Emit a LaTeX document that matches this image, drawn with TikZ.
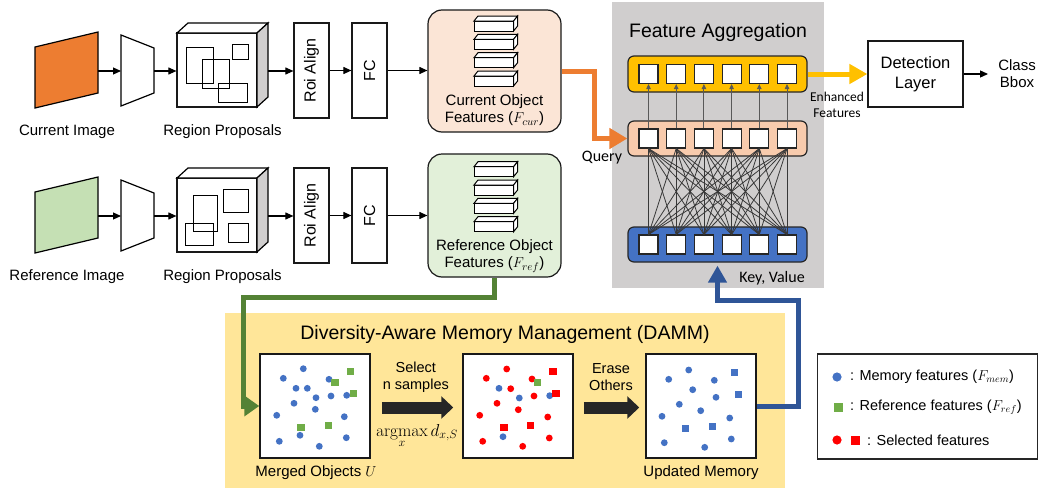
\documentclass[tikz,border=0pt]{standalone}
\usepackage[no-math]{fontspec}
\setmainfont{Liberation Sans}
\newfontfamily\carl{Carlito}
\usetikzlibrary{arrows.meta}
\definecolor{corange}{HTML}{ED7D31}
\definecolor{imggreen}{HTML}{C5E0B4}
\definecolor{curfill}{HTML}{FBE5D6}
\definecolor{reffill}{HTML}{E2F0D9}
\definecolor{panelgray}{HTML}{D0CECE}
\definecolor{cyellow}{HTML}{FFC000}
\definecolor{cpeach}{HTML}{F8CBAD}
\definecolor{cbluebar}{HTML}{4472C4}
\definecolor{cgreenline}{HTML}{548235}
\definecolor{cblueline}{HTML}{2F5597}
\definecolor{dammfill}{HTML}{FFE699}
\definecolor{dotblue}{HTML}{4472C4}
\definecolor{dotgreen}{HTML}{70AD47}
\definecolor{dotred}{HTML}{FF0000}
\definecolor{darkarrow}{HTML}{262626}
\newcommand\featbar[2]{%
  \begin{scope}[shift={(#1,#2)}]
    \draw[line width=1pt, fill=white] (0,5) rectangle (39.6,15);
    \draw[line width=1pt, fill=white] (0,5) -- (4,0) -- (43.6,0) -- (39.6,5) -- cycle;
    \draw[line width=1pt, fill=white] (39.6,5) -- (43.6,0) -- (43.6,10) -- (39.6,15) -- cycle;
  \end{scope}}
\begin{document}
\begin{tikzpicture}[x=1pt,y=-1pt,
  box/.style={draw=black!90, line width=1.2pt, fill=white, inner sep=0pt},
  lbl/.style={font=\fontsize{15}{17}\selectfont, align=center, inner sep=0pt},
  smalllbl/.style={font=\fontsize{14.5}{16.5}\selectfont, align=center, inner sep=0pt},
  leglbl/.style={font=\fontsize{14.5}{16}\selectfont, anchor=west, inner sep=0pt},
  title/.style={font=\fontsize{19.5}{22}\selectfont, inner sep=0pt},
  carllbl/.style={font=\carl\fontsize{16}{18}\selectfont, align=center, inner sep=0pt},
  thinarrow/.style={draw=black, line width=1.1pt, -{Triangle[length=8pt,width=7pt]}},
  fbox/.style={draw=black!90, line width=1.2pt, rounded corners=14pt, inner sep=0pt},
  barbox/.style={draw=black!85, line width=1.2pt, rounded corners=6pt, inner sep=0pt, minimum width=179pt},
  sq/.style={draw=black!85, line width=1.1pt, fill=white, minimum size=19pt, inner sep=0pt},
  conn/.style={draw=black!78, line width=0.8pt},
  uparrow/.style={draw=black!65, line width=0.9pt, -{Triangle[length=5pt,width=4.5pt]}},
  dbox/.style={draw=black!90, line width=1.5pt, fill=white, minimum width=110pt, minimum height=104pt, inner sep=0pt},
  bigarrow/.style={draw=darkarrow, line width=12pt, -{Triangle[length=12pt,width=22pt]}},
  fatline/.style={line width=5pt}
]
\useasboundingbox (0,0) rectangle (1039,490);

% ---------------- two input rows ----------------
\foreach \r/\dy/\fc in {cur/0/corange, ref/145/imggreen}{
  \begin{scope}[shift={(0,\dy)}]
    \draw[line width=1.2pt, fill=\fc] (35,47) -- (98,32) -- (98,93) -- (35,108) -- cycle;
    \coordinate (img\r) at (98,71);
    \draw[line width=1.2pt, fill=white] (121,35) -- (154,48) -- (154,93) -- (121,106) -- cycle;
    \coordinate (encw\r) at (121,71);
    \coordinate (ence\r) at (154,71);
    \node[box, minimum width=80pt, minimum height=74pt] (rp\r) at (217,70) {};
    \draw[line width=1.2pt, fill=white] (177,33) -- (188,23) -- (268,23) -- (257,33) -- cycle;
    \draw[line width=1.2pt, fill=panelgray] (257,33) -- (268,23) -- (268,97) -- (257,107) -- cycle;
    \coordinate (rpe\r) at (268,71);
    \node[box, minimum width=35pt, minimum height=95pt, font=\fontsize{16}{18}\selectfont] (roi\r) at (311.5,70.5) {\rotatebox{90}{Roi Align}};
    \node[box, minimum width=35pt, minimum height=95pt, font=\fontsize{16}{18}\selectfont] (fc\r) at (369.5,70.5) {\rotatebox{90}{FC}};
    \draw[thinarrow] (img\r) -- (encw\r);
    \draw[thinarrow] (ence\r) -- (ence\r -| rp\r.west);
    \draw[thinarrow] (rpe\r) -- (rpe\r -| roi\r.west);
    \draw[thinarrow] (roi\r.east) -- (fc\r.west);
  \end{scope}
}
\node[lbl] (lcurimg) at (67,132) {Current Image};
\node[lbl] (lcurrp) at (222.5,132) {Region Proposals};
\node[lbl] (lrefimg) at (67,277) {Reference Image};
\node[lbl] (lrefrp) at (222.5,277) {Region Proposals};

% region proposal rectangles
\begin{scope}[line width=1pt]
  \draw (186,47) rectangle (213,83);
  \draw (202,59) rectangle (229,88);
  \draw (218,83) rectangle (247,102);
  \draw (232,44) rectangle (248,59);
  \draw (193,195) rectangle (217,231);
  \draw (223,189) rectangle (248,212);
  \draw (185,223) rectangle (213,245);
  \draw (228,223) rectangle (248,242);
\end{scope}

% ---------------- object feature boxes ----------------
\node[fbox, fill=curfill, minimum width=133pt, minimum height=122pt] (curbox) at (494.5,71) {};
\node[fbox, fill=reffill, minimum width=133pt, minimum height=123pt] (refbox) at (494.5,215.5) {};
\foreach \y in {16,34.3,52.7,71}{\featbar{474}{\y}}
\foreach \y in {161.7,180,198.3,216.7}{\featbar{474}{\y}}
\node[lbl] (tcur) at (494.5,110.5) {Current Object\\Features ($F_{cur}$)};
\node[lbl] (tref) at (494.5,256) {Reference Object\\Features ($F_{ref}$)};
\draw[thinarrow] (fccur.east) -- (fccur.east -| curbox.west);
\draw[thinarrow] (fcref.east) -- (fcref.east -| refbox.west);

% ---------------- feature aggregation ----------------
\node[fill=panelgray, minimum width=212pt, minimum height=286pt, inner sep=0pt] (fapanel) at (718,145) {};
\node[title] (fatitle) at (718,32) {Feature Aggregation};
\node[barbox, fill=cyellow, minimum height=36pt] (topbar) at (717.5,74) {};
\node[barbox, fill=cpeach, minimum height=35pt] (midbar) at (717.5,138.5) {};
\node[barbox, fill=cbluebar, minimum height=35pt] (botbar) at (717.5,244.5) {};
\foreach \i in {0,...,5}{
  \node[sq] (t\i) at ({648.5+27.7*\i},74) {};
  \node[sq] (m\i) at ({648.5+27.7*\i},138.5) {};
  \node[sq] (b\i) at ({648.5+27.7*\i},244.5) {};
}
\foreach \i in {0,...,5}{
  \draw[uparrow] (m\i.north) -- (t\i.south);
  \foreach \j in {0,...,5}{
    \draw[conn] (m\i.south) -- (b\j.north);
  }
}
\node[carllbl] (query) at (602,158) {Query};
\node[carllbl] (keyval) at (772,278) {Key, Value};

% ---------------- detection ----------------
\node[box, minimum width=95pt, minimum height=66pt, font=\fontsize{16.5}{20}\selectfont, align=center] (det) at (915.5,74) {Detection\\Layer};
\node[lbl, inner xsep=10pt] (cls) at (1017,74) {Class\\Bbox};
\draw[thinarrow] (det.east) -- (det.east -| cls.west);
\node[font=\carl\fontsize{13.5}{16}\selectfont, align=center, inner sep=0pt] (enh) at (837,105) {Enhanced\\Features};

% ---------------- DAMM ----------------
\node[fill=dammfill, minimum width=560pt, minimum height=175pt, inner sep=0pt] (damm) at (505,400.5) {};
\node[title] (dammtitle) at (505,334) {Diversity-Aware Memory Management (DAMM)};
\node[dbox] (merged) at (315,406) {};
\node[dbox] (sel) at (518,406) {};
\node[dbox] (upd) at (701,406) {};

% merged objects
\foreach \x/\y in {303.3/368.7,283.3/378.3,329/379.3,296/388.3,307.3/388.3,316/397.7,331/396,346.7/395.3,294/403.3,315.3/409.3,276.7/415.3,344.3/416.7,300/435.3,279.3/441.3,319.3/446.3,346.3/437.7}
  \fill[dotblue] (\x,\y) circle (3.4pt);
\foreach \x/\y in {350.3/371.3,335/382.3,353.3/393.3,301/427.3,328.7/425.3}
  \fill[dotgreen] ({\x-3.6},{\y-3.6}) rectangle ++(7.2,7.2);
% selected
\foreach \x/\y in {506.7/369,486.3/378.3,532/379,510.7/388.7,534/396,497/403.3,518.3/409.7,479.7/415.3,547.7/417,482.7/441.3,522.7/446.3,549.3/438}
  \fill[dotred] (\x,\y) circle (3.4pt);
\foreach \x/\y in {499/388.3,519.3/398,549.7/395.7,503/436.7}
  \fill[dotblue] (\x,\y) circle (3.4pt);
\fill[dotgreen] ({537.3-3.6},{382.3-3.6}) rectangle ++(7.2,7.2);
\foreach \x/\y in {552.7/371.3,556/393.3,504/427.3,530.3/425.3}
  \fill[dotred] ({\x-3.8},{\y-3.8}) rectangle ++(7.6,7.6);
% updated
\foreach \x/\y in {688.7/370,668.7/379.3,714.3/380.3,692.7/389.7,716/397.3,679.3/404.3,700.7/410.7,662/416.3,729.7/418,664.3/442.7,704.7/447.3,731.3/439}
  \fill[dotblue] (\x,\y) circle (3.4pt);
\foreach \x/\y in {734.3/372.3,738.3/394.3,685.3/428.3,712.7/426.3}
  \fill[dotblue] ({\x-3.6},{\y-3.6}) rectangle ++(7.2,7.2);

\draw[bigarrow] ([xshift=11pt,yshift=-1.5pt]merged.east) -- ([xshift=-9pt,yshift=-1.5pt]sel.west);
\draw[bigarrow] ([xshift=10pt,yshift=-1.5pt]sel.east) -- ([xshift=-6pt,yshift=-1.5pt]upd.west);
\node[smalllbl] (selectlbl) at (415.8,377) {Select\\n samples};
\node[font=\fontsize{17}{19}\selectfont, anchor=base, inner sep=0pt] (argm) at (417,436) {$\mathop{\mathrm{argmax}}\limits_{x} d_{x,S}$};
\node[smalllbl] (eraselbl) at (611,377) {Erase\\Others};
\node[lbl] (mergedlbl) at (316,473) {Merged Objects $U$};
\node[lbl] (updlbl) at (701,473) {Updated Memory};

% ---------------- legend ----------------
\node[draw=black!85, line width=1.2pt, minimum width=220pt, minimum height=105pt, inner sep=0pt] (legend) at (927.5,406.5) {};
\fill[dotblue] (837,377) circle (4.6pt);
\node[leglbl] (leg1) at (850,377) {: Memory features ($F_{mem}$)};
\fill[dotgreen] (833.5,402.5) rectangle ++(9,9);
\node[leglbl] (leg2) at (850,407) {: Reference features ($F_{ref}$)};
\fill[dotred] (837,440) circle (4.6pt);
\fill[dotred] (850.5,435.5) rectangle ++(9,9);
\node[leglbl] (leg3) at (867,440) {: Selected features};

% ---------------- thick colored connectors ----------------
\coordinate (oturn) at (594,71);
\draw[fatline, draw=corange, -{Triangle[length=18pt,width=20pt]}] (curbox.east) -- (oturn) |- (midbar.west);
\draw[fatline, draw=cyellow, -{Triangle[length=18pt,width=19pt]}] (topbar.east) -- (det.west);
\coordinate (gturn) at (243,297);
\draw[fatline, draw=cgreenline, -{Triangle[length=15pt,width=20pt]}] (refbox.south) |- (gturn) |- (merged.west);
\coordinate (bturn) at (798,300);
\draw[fatline, draw=cblueline, -{Triangle[length=17pt,width=18pt]}, shorten >=3pt] (upd.east) -| (bturn) -| (botbar.south);
\end{tikzpicture}
\end{document}
